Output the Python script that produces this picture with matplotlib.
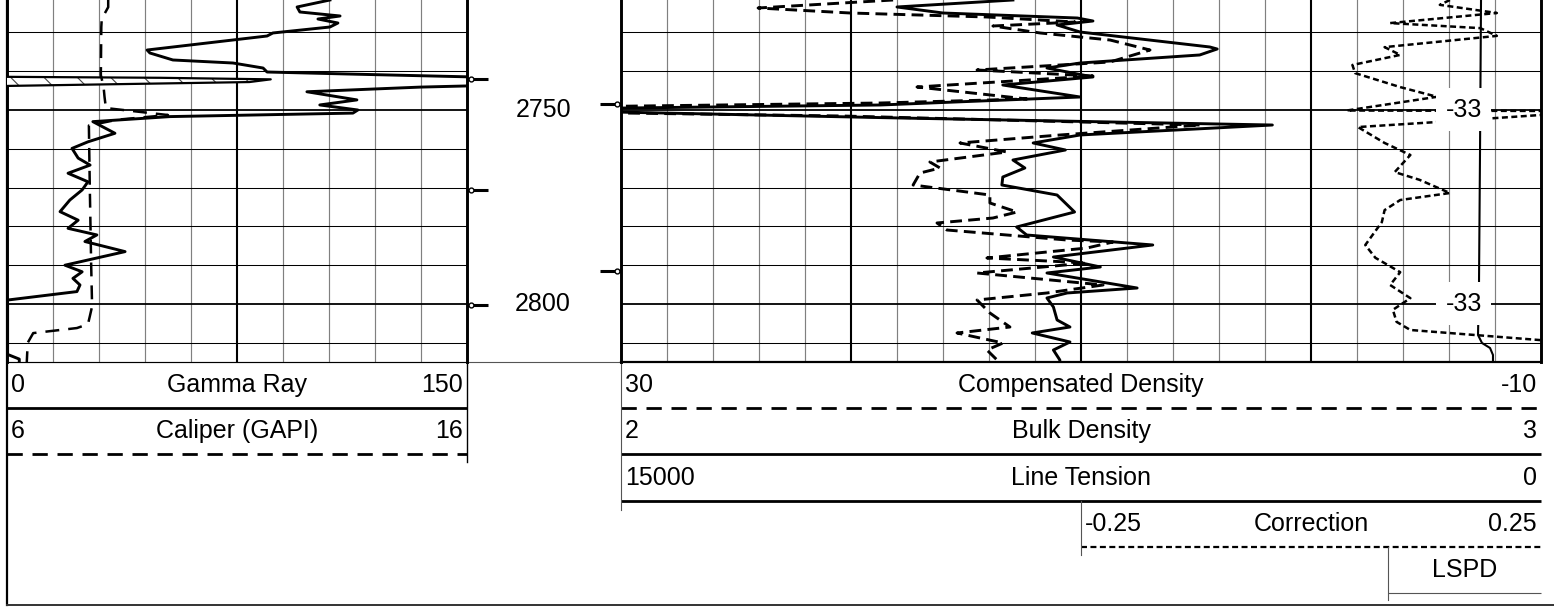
"""
Well log panel: gamma ray / caliper track, depth track and density track,
with the curve header blocks underneath. Saves out.png.
"""
import matplotlib.pyplot as plt
import numpy as np

plt.rcParams['font.family'] = ['Liberation Sans', 'DejaVu Sans']
plt.rcParams['lines.scale_dashes'] = False
plt.rcParams['hatch.linewidth'] = 0.8

W, H = 1554, 608
TRACK_BOTTOM = 362
TOP_DEPTH, BOTTOM_DEPTH = 2721.65, 2814.95
FS = 18

# scales printed in the headers (left value, right value)
gr_scale = (0, 150)
cal_scale = (6, 16)
cd_scale = (30, -10)
bd_scale = (2, 3)
lt_scale = (15000, 0)
corr_scale = (-0.25, 0.25)

# gamma ray, solid, left track (values over 150 wrap onto the backup scale)
gr_depth = [2721.65, 2723.45, 2724.74, 2725.77, 2726.55, 2727.58, 2728.61, 2730.15,
            2730.93, 2734.54, 2735.31, 2737.11, 2737.89, 2739.18, 2740.21, 2740.72,
            2741.45, 2741.7, 2742.1, 2742.8, 2743.8, 2744.1, 2745.3, 2747.4, 2748.7,
            2750.0, 2750.8, 2751.7, 2753.0, 2756.0, 2758.2, 2759.9, 2762.4, 2764.2,
            2766.3, 2768.5, 2770.6, 2773.2, 2776.2, 2778.4, 2780.5, 2782.2, 2783.9,
            2786.5, 2790.0, 2791.7, 2793.4, 2795.1, 2796.8, 2799.0, 2800.0, 2813.0,
            2814.2, 2814.95]
gr_value = [105.3, 94.6, 95.5, 108.6, 101.4, 107.9, 105.3, 86.7, 84.8, 45.7, 46.6,
            54.1, 73.7, 83.5, 84.8, 110.9, 150.0, 200.0, 236.0, 229.0, 150.0, 134.7,
            97.8, 114.1, 102.0, 114.4, 112.8, 53.2, 28.0, 35.2, 26.4, 21.2, 23.2, 27.1,
            19.9, 26.4, 24.5, 20.5, 17.3, 23.2, 19.9, 29.3, 25.4, 38.5, 18.9, 24.5,
            21.5, 23.8, 22.8, 0.0, 0.2, 0.2, 4.0, 4.0]

# caliper, dashed, left track
cal_depth = [2721.65, 2723.5, 2726.5, 2728.6, 2741.0, 2744.1, 2746.6, 2749.5, 2750.5,
             2751.3, 2752.5, 2754.0, 2770.0, 2790.0, 2800.6, 2803.2, 2805.2, 2806.2,
             2807.5, 2810.0, 2814.95]
cal_value = [8.2, 8.2, 8.06, 8.05, 8.04, 8.1, 8.12, 8.15, 8.9, 9.5, 8.4, 7.78, 7.8,
             7.83, 7.85, 7.8, 7.76, 7.52, 6.57, 6.45, 6.43]

# bulk density, solid, right track
bd_depth = [2721.65, 2723.45, 2725.0, 2726.29, 2727.06, 2728.09, 2729.9, 2733.76,
            2734.28, 2735.82, 2737.89, 2739.18, 2741.49, 2743.56, 2746.65, 2748.71,
            2749.7, 2750.3, 2752.06, 2753.87, 2756.44, 2758.5, 2760.31, 2762.89,
            2764.95, 2767.27, 2769.33, 2771.91, 2776.29, 2780.15, 2782.22, 2784.79,
            2787.89, 2790.46, 2792.01, 2795.88, 2797.16, 2798.45, 2800.77, 2804.12,
            2805.93, 2807.47, 2809.79, 2811.86, 2814.43, 2814.95]
bd_value = [2.426, 2.300, 2.350, 2.496, 2.513, 2.474, 2.499, 2.640, 2.648, 2.629,
            2.499, 2.463, 2.513, 2.415, 2.499, 2.282, 1.93, 1.95, 2.303, 2.708, 2.499,
            2.448, 2.483, 2.426, 2.439, 2.415, 2.414, 2.474, 2.493, 2.430, 2.441,
            2.578, 2.470, 2.521, 2.463, 2.561, 2.485, 2.463, 2.470, 2.474, 2.488,
            2.447, 2.488, 2.470, 2.477, 2.477]

# compensated density, dashed, right track
cd_depth = [2721.65, 2723.71, 2725.0, 2726.03, 2727.32, 2728.35, 2730.15, 2731.96,
            2734.54, 2737.63, 2739.69, 2741.24, 2744.07, 2747.16, 2748.2, 2749.23,
            2750.0, 2750.77, 2751.55, 2753.09, 2753.87, 2756.44, 2758.5, 2760.82,
            2763.4, 2764.95, 2766.24, 2769.33, 2771.91, 2773.97, 2776.29, 2777.84,
            2779.12, 2780.93, 2783.51, 2784.02, 2785.57, 2788.14, 2789.43, 2792.01,
            2795.1, 2797.16, 2798.97, 2802.32, 2805.93, 2807.47, 2810.05, 2811.86,
            2814.43, 2814.95]
cd_value = [18.17, 24.04, 20.04, 14.09, 10.26, 13.83, 11.78, 8.74, 7.0, 8.74, 14.52,
            9.48, 17.13, 12.35, 18.74, 32.65, 33.0, 30.0, 20.35, 10.04, 4.8, 10.91,
            15.26, 13.22, 16.57, 16.13, 17.0, 17.3, 13.96, 13.96, 12.78, 13.83, 16.26,
            15.83, 10.61, 8.61, 9.74, 14.09, 9.74, 14.52, 9.04, 11.48, 14.52, 13.96,
            13.09, 15.39, 13.39, 14.09, 13.65, 13.65]

# line tension, solid, right track
lt_depth = [2721.65, 2760.0, 2795.0, 2808.0, 2810.05, 2811.34, 2813.14, 2814.95]
lt_value = [978, 994, 1011, 1027, 962, 831, 783, 783]

# correction, fine dashed, right half of the right track
corr_depth = [2721.65, 2722.9, 2725.0, 2727.6, 2728.9, 2730.9, 2733.8, 2735.8, 2738.4,
              2740.5, 2744.1, 2746.6, 2750.13, 2750.26, 2751.03, 2751.3, 2753.1,
              2754.4, 2758.5, 2761.6, 2766.0, 2768.0, 2771.4, 2773.2, 2775.8, 2778.9,
              2784.8, 2788.1, 2791.8, 2795.1, 2798.5, 2801.5, 2804.6, 2806.7, 2809.3,
              2810.0, 2814.95]
corr_value = [0.151, 0.140, 0.202, 0.086, 0.184, 0.202, 0.080, 0.097, 0.045, 0.048,
              0.097, 0.137, 0.039, 0.28, 0.28, 0.249, 0.137, 0.051, 0.080, 0.108,
              0.091, 0.118, 0.151, 0.097, 0.080, 0.077, 0.059, 0.070, 0.097, 0.086,
              0.108, 0.089, 0.093, 0.108, 0.249, 0.28, 0.28]

# line speed readouts
lspd_depth = [2750, 2800]
lspd_value = [-33, -33]

depth_labels = [2750, 2800]
left_marks = [2742.0, 2770.6, 2800.2]
right_marks = [2748.5, 2791.5]

fig = plt.figure(figsize=(W / 100, H / 100), dpi=100)
fig.patch.set_facecolor('white')

hdr = fig.add_axes([0, 0, 1, 1])
hdr.set_xlim(0, W)
hdr.set_ylim(H, 0)
hdr.axis('off')


def track_axes(x0, x1, xlim):
    ax = fig.add_axes([x0 / W, 1 - TRACK_BOTTOM / H, (x1 - x0) / W, TRACK_BOTTOM / H])
    ax.set_xlim(*xlim)
    ax.set_ylim(BOTTOM_DEPTH, TOP_DEPTH)
    ax.axis('off')
    ax.patch.set_visible(False)
    return ax


def grid_track(x0, x1, ndiv, bold_every, bottom_lw):
    ax = track_axes(x0, x1, (0, ndiv))
    for i in range(1, ndiv):
        if i % bold_every == 0:
            ax.axvline(i, color='black', lw=1.5)
        else:
            ax.axvline(i, color='#808080', lw=0.85)
    for d in range(2730, 2815, 10):
        ax.axhline(d, color='black', lw=1.3 if d % 50 == 0 else 0.75)
    ax.axvline(0, color='black', lw=2.1, clip_on=False)
    ax.axvline(ndiv, color='black', lw=2.1, clip_on=False)
    ax.axhline(BOTTOM_DEPTH, color='black', lw=bottom_lw, clip_on=False)
    return ax


# --- header block ---
solid = dict(lw=2.0, color='black')
dash_long = dict(lw=2.0, color='black', linestyle=(0, (11, 7)))
dash_fine = dict(lw=1.6, color='black', linestyle=(0, (4.3, 2.5)))
thin = dict(lw=0.8, color='#555555')


def fmt(v):
    return f"{v:g}"


def header_row(k, x0, x1, name, scale, style):
    base = 392 + k * 46.3
    line = 408 + k * 46.3
    if scale is not None:
        hdr.text(x0 + 4, base, fmt(scale[0]), ha='left', va='baseline', fontsize=FS)
        hdr.text(x1 - 4, base, fmt(scale[1]), ha='right', va='baseline', fontsize=FS)
    hdr.text((x0 + x1) / 2, base, name, ha='center', va='baseline', fontsize=FS)
    hdr.plot([x0, x1], [line, line], solid_capstyle='butt', **style)


header_row(0, 7, 467, "Gamma Ray", gr_scale, solid)
header_row(1, 7, 467, "Caliper (GAPI)", cal_scale, dash_long)
header_row(0, 621, 1541, "Compensated Density", cd_scale, dash_long)
header_row(1, 621, 1541, "Bulk Density", bd_scale, solid)
header_row(2, 621, 1541, "Line Tension", lt_scale, solid)
header_row(3, 1081, 1541, "Correction", corr_scale, dash_fine)
header_row(4, 1388, 1541, "LSPD", None, thin)

hdr.plot([7, 621], [TRACK_BOTTOM, TRACK_BOTTOM], **thin)
hdr.plot([7, 7], [0, 605], lw=1.6, color='black')
hdr.plot([467, 467], [TRACK_BOTTOM, 462], lw=1.0, color='black')
hdr.plot([621, 621], [TRACK_BOTTOM, 510], **thin)
hdr.plot([1081, 1081], [501, 555], **thin)
hdr.plot([1388, 1388], [547, 600], **thin)
hdr.plot([7, W], [605, 605], lw=1.4, color='#333333')

# --- grids ---
grid_track(7, 467, 10, 5, 0.8)
grid_track(621, 1541, 20, 5, 1.6)

# --- left track curves ---
gax = track_axes(7, 467, gr_scale)
gr = np.array(gr_value)
gd = np.array(gr_depth)
wrap = gr >= gr_scale[1]
backup = np.where(wrap, gr - gr_scale[1], np.nan)
gax.fill_betweenx(gd, 0, backup, where=wrap, facecolor='white', edgecolor='#444444',
                  hatch='\\', lw=0)
gax.plot(backup, gd, color='black', lw=1.6)
gax.plot(gr, gd, color='black', lw=2.1)

cax = track_axes(7, 467, cal_scale)
cax.plot(cal_value, cal_depth, color='black', lw=1.8, linestyle=(0, (10, 6.5)))

# --- depth track ---
dtx = track_axes(467, 621, (0, 1))
for d in depth_labels:
    dtx.text(0.494, d, str(d), ha='center', va='center', fontsize=FS)
for d in left_marks:
    dtx.plot([0.0, 0.136], [d, d], color='black', lw=2.2, solid_capstyle='butt')
    dtx.plot([0.025], [d], marker='o', ms=3.5, mfc='white', mec='black', mew=1.0)
for d in right_marks:
    dtx.plot([0.864, 1.0], [d, d], color='black', lw=2.2, solid_capstyle='butt')
    dtx.plot([0.975], [d], marker='o', ms=3.5, mfc='white', mec='black', mew=1.0)

# --- right track curves ---
tax = track_axes(621, 1541, lt_scale)
tax.plot(lt_value, lt_depth, color='black', lw=1.5)

bax = track_axes(621, 1541, bd_scale)
bax.plot(bd_value, bd_depth, color='black', lw=2.1)

dax = track_axes(621, 1541, cd_scale)
dax.plot(cd_value, cd_depth, color='black', lw=2.1, linestyle=(0, (8.5, 4.5)))

kax = track_axes(1081, 1541, corr_scale)
kax.plot(corr_value, corr_depth, color='black', lw=1.8, linestyle=(0, (4.3, 2.5)))

lax = track_axes(621, 1541, (0, 1))
for d, v in zip(lspd_depth, lspd_value):
    lax.text(0.916, d, str(v), ha='center', va='center', fontsize=FS,
             bbox=dict(boxstyle='square,pad=0.38', fc='white', ec='none'))

fig.savefig('out.png', dpi=100, facecolor='white')
